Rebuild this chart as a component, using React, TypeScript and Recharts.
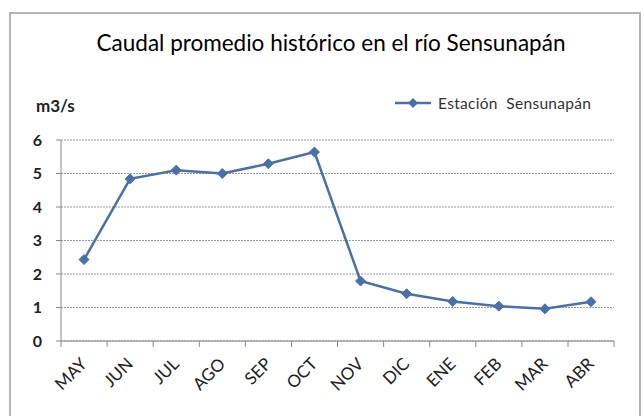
import React from "react"
import { LineChart, Line, XAxis, YAxis, CartesianGrid } from "recharts"

const MONTHS = ["MAY", "JUN", "JUL", "AGO", "SEP", "OCT", "NOV", "DIC", "ENE", "FEB", "MAR", "ABR"]
const CAUDAL = [2.43, 4.84, 5.1, 5.0, 5.29, 5.64, 1.79, 1.41, 1.18, 1.04, 0.96, 1.17]
const Y_TICKS = [0, 1, 2, 3, 4, 5, 6]
const SERIES_NAME = "Estación  Sensunapán"

const data = MONTHS.map((m, i) => ({ month: m, caudal: CAUDAL[i] }))

const BLUE = "#4a70aa"
const FONT = "Lato, 'Open Sans', sans-serif"
const BAND = 46

const Diamond = (props: any) => {
    const { cx, cy, index } = props
    if (cx == null || cy == null) return null
    const r = 5
    return (
        <polygon
            key={`d-${index}`}
            points={`${cx},${cy - r} ${cx + r},${cy} ${cx},${cy + r} ${cx - r},${cy}`}
            fill={BLUE}
            stroke={BLUE}
        />
    )
}

// Excel style: tick marks sit between categories, labels slanted
const MonthTick = (props: any) => {
    const { x, y, payload, index, visibleTicksCount } = props
    const left = x - BAND / 2
    const right = x + BAND / 2
    const tx = x + 4
    const ty = y + 16
    return (
        <g>
            <line x1={left} y1={341} x2={left} y2={347} stroke="#888" />
            {index === visibleTicksCount - 1 && (
                <line x1={right} y1={341} x2={right} y2={347} stroke="#888" />
            )}
            <text
                x={tx}
                y={ty}
                textAnchor="end"
                fontSize={17}
                fill="#222"
                fontFamily={FONT}
                transform={`rotate(-45, ${tx}, ${ty})`}
            >
                {payload.value}
            </text>
        </g>
    )
}

export default function App() {
    return (
        <div style={{ position: "absolute", left: 0, top: 0, width: 644, height: 416, background: "#fff", overflow: "hidden" }}>
            <div
                style={{
                    position: "absolute",
                    left: 9,
                    top: 12,
                    width: 628,
                    height: 420,
                    border: "2px solid #b4b4b4",
                }}
            />
            <div
                style={{
                    position: "absolute",
                    left: 0,
                    width: 662,
                    top: 29,
                    textAlign: "center",
                    fontFamily: FONT,
                    fontSize: 22.5,
                    color: "#000",
                }}
            >
                Caudal promedio histórico en el río Sensunapán
            </div>
            <div
                style={{
                    position: "absolute",
                    left: 36,
                    top: 95,
                    fontFamily: FONT,
                    fontSize: 17,
                    fontWeight: 700,
                    color: "#222",
                }}
            >
                m3/s
            </div>
            <div
                style={{
                    position: "absolute",
                    left: 395,
                    top: 94,
                    display: "flex",
                    alignItems: "center",
                    fontFamily: FONT,
                    fontSize: 15.5,
                    color: "#333",
                }}
            >
                <svg width={38} height={12}>
                    <line x1={0} y1={6} x2={36} y2={6} stroke={BLUE} strokeWidth={2.5} />
                    <polygon points="18,1 23,6 18,11 13,6" fill={BLUE} />
                </svg>
                <span style={{ marginLeft: 5, whiteSpace: "pre", letterSpacing: 0.3 }}>{SERIES_NAME}</span>
            </div>
            <LineChart
                width={644}
                height={416}
                data={data}
                margin={{ top: 140, right: 30, bottom: 0, left: 0 }}
                style={{ position: "absolute", left: 0, top: 0 }}
            >
                <CartesianGrid vertical={false} stroke="#9a9a9a" strokeDasharray="2 1" />
                <XAxis
                    dataKey="month"
                    height={75}
                    stroke="#888"
                    tickLine={false}
                    interval={0}
                    padding={{ left: BAND / 2, right: BAND / 2 }}
                    tick={<MonthTick />}
                />
                <YAxis
                    width={61}
                    domain={[0, 6]}
                    ticks={Y_TICKS}
                    stroke="#888"
                    tickSize={5}
                    tickMargin={14}
                    tick={{ fontSize: 16, fontWeight: 700, fill: "#222", fontFamily: FONT }}
                />
                <Line
                    type="linear"
                    dataKey="caudal"
                    name={SERIES_NAME}
                    stroke={BLUE}
                    strokeWidth={2.5}
                    dot={<Diamond />}
                    activeDot={false}
                    isAnimationActive={false}
                />
            </LineChart>
        </div>
    )
}
